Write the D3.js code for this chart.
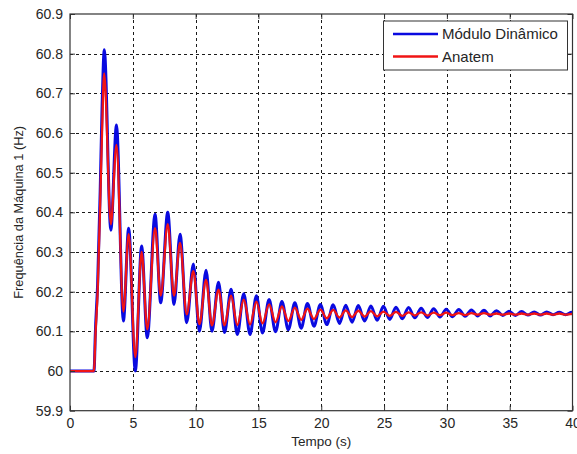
<!DOCTYPE html>
<html>
<head>
<meta charset="utf-8">
<script src="https://cdn.jsdelivr.net/npm/d3@7"></script>
<style>
  html, body { margin: 0; padding: 0; background: #ffffff; }
  svg { display: block; }
  text { font-family: "Liberation Sans", Arial, sans-serif; fill: #262626; }
</style>
</head>
<body>
<svg id="chart" width="577" height="454"></svg>
<script>
// Frequency of machine 1 after the disturbance: extrema of each simulation run
const timeDin = [0, 1.9, 1.95, 2.0, 2.2, 2.4, 2.55, 2.73, 3.25, 3.7, 4.25, 4.67, 5.2, 5.7, 6.15, 6.77, 7.22, 7.78, 8.28, 8.76,
  9.29, 9.82, 10.3, 10.83, 11.3, 11.82, 12.3, 12.82, 13.32, 13.83, 14.33, 14.84, 15.32, 15.85, 16.36, 16.87, 17.38, 17.9,
  18.4, 18.9, 19.42, 19.93, 20.44, 20.95, 21.45, 21.95, 22.45, 22.95, 23.45, 23.95, 24.45, 24.95, 25.45, 25.95, 26.45,
  26.95, 27.45, 27.95, 28.45, 28.95, 29.45, 29.95, 30.45, 30.95, 31.45, 31.95, 32.45, 32.95, 33.45, 33.95, 34.45, 34.95,
  35.45, 35.95, 36.45, 36.95, 37.45, 37.95, 38.45, 38.95, 39.45, 39.95, 40];
const freqDin = [60, 60, 60.02, 60.08, 60.22, 60.45, 60.66, 60.81, 60.355, 60.62, 60.126, 60.36, 60.0, 60.315, 60.084, 60.395,
  60.172, 60.40, 60.168, 60.345, 60.122, 60.27, 60.10, 60.254, 60.10, 60.224, 60.097, 60.206, 60.092, 60.195, 60.092, 60.19,
  60.096, 60.18, 60.099, 60.175, 60.104, 60.172, 60.108, 60.17, 60.113, 60.168, 60.117, 60.167, 60.12, 60.166, 60.123,
  60.165, 60.126, 60.164, 60.128, 60.163, 60.13, 60.161, 60.132, 60.16, 60.134, 60.158, 60.135, 60.157, 60.136, 60.156,
  60.137, 60.155, 60.138, 60.154, 60.139, 60.153, 60.139, 60.152, 60.14, 60.151, 60.14, 60.15, 60.141, 60.149, 60.141,
  60.149, 60.142, 60.148, 60.142, 60.148, 60.145];

const timeAna = [0, 1.9, 1.95, 2.0, 2.2, 2.4, 2.55, 2.72, 3.25, 3.7, 4.25, 4.67, 5.2, 5.7, 6.15, 6.77, 7.22, 7.78, 8.28, 8.76,
  9.29, 9.82, 10.3, 10.83, 11.3, 11.82, 12.3, 12.82, 13.32, 13.83, 14.33, 14.84, 15.32, 15.85, 16.36, 16.87, 17.38, 17.9,
  18.4, 18.9, 19.42, 19.93, 20.44, 20.95, 21.45, 21.95, 22.45, 22.95, 23.45, 23.95, 24.45, 24.95, 25.45, 25.95, 26.45,
  26.95, 27.45, 27.95, 28.45, 28.95, 29.45, 29.95, 30.45, 30.95, 31.45, 31.95, 32.45, 32.95, 33.45, 33.95, 34.45, 34.95,
  35.45, 35.95, 36.45, 36.95, 37.45, 37.95, 38.45, 38.95, 39.45, 39.95, 40];
const freqAna = [60, 60, 60.02, 60.07, 60.2, 60.42, 60.6, 60.75, 60.37, 60.57, 60.15, 60.345, 60.035, 60.30, 60.105, 60.36,
  60.19, 60.37, 60.19, 60.323, 60.143, 60.252, 60.118, 60.23, 60.115, 60.205, 60.115, 60.19, 60.116, 60.18, 60.117, 60.175,
  60.12, 60.168, 60.123, 60.163, 60.126, 60.16, 60.129, 60.157, 60.131, 60.155, 60.133, 60.154, 60.135, 60.153, 60.136,
  60.152, 60.137, 60.151, 60.138, 60.15, 60.139, 60.149, 60.139, 60.148, 60.14, 60.148, 60.14, 60.147, 60.141, 60.147,
  60.141, 60.146, 60.141, 60.146, 60.142, 60.146, 60.142, 60.145, 60.142, 60.145, 60.142, 60.145, 60.142, 60.145, 60.142,
  60.145, 60.142, 60.145, 60.142, 60.144, 60.143];

const xTicks = [0, 5, 10, 15, 20, 25, 30, 35, 40];
const yTicks = [59.9, 60, 60.1, 60.2, 60.3, 60.4, 60.5, 60.6, 60.7, 60.8, 60.9];
const seriesNames = ["Módulo Dinâmico", "Anatem"];
const seriesColors = ["#0a0ae0", "#f01414"];
const xTitle = "Tempo (s)";
const yTitle = "Frequência da Máquina 1 (Hz)";

const svg = d3.select("#chart");
const plotL = 70, plotR = 572.5, plotT = 14, plotB = 410.7;

const x = d3.scaleLinear().domain([0, 40]).range([plotL, plotR]);
const y = d3.scaleLinear().domain([59.9, 60.9]).range([plotB, plotT]);

svg.append("rect").attr("x", 0).attr("y", 0).attr("width", 577).attr("height", 454).attr("fill", "#ffffff");

// dotted grid
const grid = svg.append("g").attr("stroke", "#1a1a1a").attr("stroke-width", 1).attr("stroke-dasharray", "3,3");
grid.selectAll("line.vx").data(xTicks.slice(1, -1)).join("line")
  .attr("x1", d => Math.round(x(d)) + 0.5).attr("x2", d => Math.round(x(d)) + 0.5)
  .attr("y1", plotT).attr("y2", plotB);
grid.selectAll("line.hy").data(yTicks.slice(1, -1)).join("line")
  .attr("y1", d => Math.round(y(d)) + 0.5).attr("y2", d => Math.round(y(d)) + 0.5)
  .attr("x1", plotL).attr("x2", plotR);

// simulation traces
svg.append("clipPath").attr("id", "plotclip").append("rect")
  .attr("x", plotL).attr("y", plotT).attr("width", plotR - plotL).attr("height", plotB - plotT);

const line = d3.line().x(d => x(d[0])).y(d => y(d[1])).curve(d3.curveMonotoneX);
const traces = [d3.zip(timeDin, freqDin), d3.zip(timeAna, freqAna)];
const widths = [3, 2.3];
const plot = svg.append("g").attr("clip-path", "url(#plotclip)");
traces.forEach((pts, i) => {
  plot.append("path").datum(pts)
    .attr("fill", "none").attr("stroke", seriesColors[i]).attr("stroke-width", widths[i])
    .attr("stroke-linejoin", "round").attr("d", line);
});

// axes with inward ticks on all four sides
const axisColor = "#333333";
function styleAxis(g, showText) {
  g.select(".domain").remove();
  g.selectAll(".tick line").attr("stroke", axisColor);
  g.selectAll(".tick text").attr("font-size", 14).attr("fill", "#262626")
    .attr("font-family", "'Liberation Sans', Arial, sans-serif");
  if (!showText) g.selectAll(".tick text").remove();
}
svg.append("g").attr("transform", `translate(0,${plotB})`)
  .call(d3.axisBottom(x).tickValues(xTicks).tickSize(-5).tickPadding(7).tickFormat(d3.format("d")))
  .call(g => styleAxis(g, true));
svg.append("g").attr("transform", `translate(0,${plotT})`)
  .call(d3.axisTop(x).tickValues(xTicks).tickSize(-5))
  .call(g => styleAxis(g, false));
svg.append("g").attr("transform", `translate(${plotL},0)`)
  .call(d3.axisLeft(y).tickValues(yTicks).tickSize(-5).tickPadding(7).tickFormat(d => String(d)))
  .call(g => styleAxis(g, true));
svg.append("g").attr("transform", `translate(${plotR},0)`)
  .call(d3.axisRight(y).tickValues(yTicks).tickSize(-5))
  .call(g => styleAxis(g, false));

svg.append("rect").attr("x", plotL).attr("y", plotT).attr("width", plotR - plotL).attr("height", plotB - plotT)
  .attr("fill", "none").attr("stroke", axisColor).attr("stroke-width", 1.2);

// axis titles
svg.append("text").attr("x", (plotL + plotR) / 2).attr("y", 446).attr("text-anchor", "middle")
  .attr("font-size", 13.5).text(xTitle);
svg.append("text").attr("transform", `translate(23,${(plotT + plotB) / 2}) rotate(-90)`)
  .attr("text-anchor", "middle").attr("font-size", 12.8).text(yTitle);

// legend
const lg = svg.append("g");
lg.append("rect").attr("x", 383.5).attr("y", 21).attr("width", 184).attr("height", 49)
  .attr("fill", "#ffffff").attr("stroke", axisColor).attr("stroke-width", 1);
seriesNames.forEach((name, i) => {
  const yy = 34 + i * 22.5;
  lg.append("line").attr("x1", 393).attr("x2", 438).attr("y1", yy).attr("y2", yy)
    .attr("stroke", seriesColors[i]).attr("stroke-width", 2.5);
  lg.append("text").attr("x", 442).attr("y", yy + 5).attr("font-size", 15).text(name);
});
</script>
</body>
</html>
